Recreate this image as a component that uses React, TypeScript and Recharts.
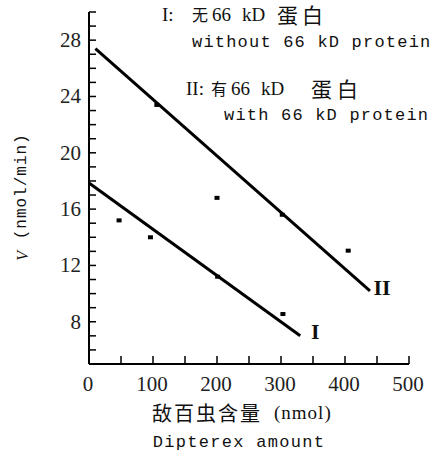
import React from 'react';
import { ComposedChart, Line, Scatter, XAxis, YAxis, LabelList } from 'recharts';

// axis ticks
const xTicks = [0, 50, 100, 150, 200, 250, 300, 350, 400, 450, 500];
const xLabels = [0, 100, 200, 300, 400, 500];
const yTicks = [5, 6, 7, 8, 9, 10, 11, 12, 13, 14, 15, 16, 17, 18, 19, 20, 21, 22, 23, 24, 25, 26, 27, 28, 29, 30];
const yLabels = [8, 12, 16, 20, 24, 28];

// I: without 66 kD protein
const amountI = [47, 96, 201, 303];
const rateI = [15.2, 14.0, 11.2, 8.55];
const fitAmountI = [0, 330];
const fitRateI = [17.85, 7.0];

// II: with 66 kD protein
const amountII = [106, 200, 302, 405];
const rateII = [23.4, 16.8, 15.6, 13.05];
const fitAmountII = [10, 439];
const fitRateII = [27.4, 10.2];

const toPoints = (xs: number[], ys: number[]) => xs.map((x, i) => ({ x, v: ys[i] }));

const pointsI = toPoints(amountI, rateI);
const pointsII = toPoints(amountII, rateII);
const lineI = toPoints(fitAmountI, fitRateI);
const lineII = toPoints(fitAmountII, fitRateII);

const SERIF = '"Liberation Serif", "DejaVu Serif", serif';
const MONO = '"Liberation Mono", "DejaVu Sans Mono", monospace';
const CJK = '"Noto Sans CJK SC", sans-serif';
const INK = '#111';

const XTick = (props: any) => {
  const { x, y, payload } = props;
  const major = xLabels.includes(payload.value);
  return (
    <g>
      <line x1={x} y1={y} x2={x} y2={y - 8} stroke="#000" strokeWidth={1.5} />
      {major && (
        <text x={x - 1} y={y + 20} textAnchor="middle" dominantBaseline="central" fontFamily={SERIF} fontSize={21} fill="#222">
          {payload.value}
        </text>
      )}
    </g>
  );
};

const YTick = (props: any) => {
  const { x, y, payload } = props;
  const major = yLabels.includes(payload.value);
  return (
    <g>
      <line x1={x} y1={y} x2={x + 7} y2={y} stroke="#000" strokeWidth={1.5} />
      {major && (
        <text x={x - 8} y={y} textAnchor="end" dominantBaseline="central" fontFamily={SERIF} fontSize={21} fill="#222">
          {payload.value}
        </text>
      )}
    </g>
  );
};

const Dot = (props: any) => {
  const { cx, cy } = props;
  return <rect x={cx - 2.5} y={cy - 2} width={5} height={4} fill="#000" />;
};

const endLabel = (name: string, last: number, dx: number, dy: number) => (props: any) => {
  const { x, y, index } = props;
  if (index !== last) return null;
  return (
    <text x={x + dx} y={y + dy} textAnchor="middle" dominantBaseline="central" fontFamily={SERIF} fontSize={22} fontWeight="bold" fill={INK}>
      {name}
    </text>
  );
};

export default function App() {
  return (
    <div style={{ position: 'absolute', left: 0, top: 0, width: 442, height: 457, background: '#fff' }}>
      <ComposedChart width={442} height={457} margin={{ top: 12, right: 33, bottom: 0, left: 0 }}>
        <XAxis
          type="number"
          dataKey="x"
          domain={[0, 500]}
          ticks={xTicks}
          interval={0}
          height={93}
          tickSize={0}
          tickMargin={0}
          tickLine={false}
          axisLine={{ stroke: '#000', strokeWidth: 2 }}
          tick={<XTick />}
        />
        <YAxis
          type="number"
          dataKey="v"
          domain={[5, 30]}
          ticks={yTicks}
          interval={0}
          width={89}
          tickSize={0}
          tickMargin={0}
          tickLine={false}
          axisLine={{ stroke: '#000', strokeWidth: 2 }}
          tick={<YTick />}
        />
        <Line data={lineI} dataKey="v" stroke="#000" strokeWidth={3} dot={false} isAnimationActive={false}>
          <LabelList dataKey="v" content={endLabel('I', 1, 15, -4)} />
        </Line>
        <Line data={lineII} dataKey="v" stroke="#000" strokeWidth={3} dot={false} isAnimationActive={false}>
          <LabelList dataKey="v" content={endLabel('II', 1, 12, -3)} />
        </Line>
        <Scatter data={pointsI} dataKey="v" shape={<Dot />} isAnimationActive={false} />
        <Scatter data={pointsII} dataKey="v" shape={<Dot />} isAnimationActive={false} />

        <text fill={INK} dominantBaseline="central">
          <tspan x={162} y={14} fontFamily={SERIF} fontSize={19}>I:</tspan>
          <tspan x={192} y={14} fontFamily={CJK} fontSize={16}>无</tspan>
          <tspan x={212} y={14} fontFamily={SERIF} fontSize={19}>66</tspan>
          <tspan x={242} y={14} fontFamily={SERIF} fontSize={19}>kD</tspan>
          <tspan x={277} y={14} fontFamily={CJK} fontSize={21} letterSpacing={4}>蛋白</tspan>
        </text>
        <text x={192} y={42} fill={INK} dominantBaseline="central" fontFamily={MONO} fontSize={17} letterSpacing={1.2}>
          without 66 kD protein
        </text>
        <text fill={INK} dominantBaseline="central">
          <tspan x={186} y={88} fontFamily={SERIF} fontSize={19}>II:</tspan>
          <tspan x={211} y={88} fontFamily={CJK} fontSize={16}>有</tspan>
          <tspan x={231} y={88} fontFamily={SERIF} fontSize={19}>66</tspan>
          <tspan x={261} y={88} fontFamily={SERIF} fontSize={19}>kD</tspan>
          <tspan x={311} y={88} fontFamily={CJK} fontSize={21} letterSpacing={5}>蛋白</tspan>
        </text>
        <text x={224} y={115} fill={INK} dominantBaseline="central" fontFamily={MONO} fontSize={17} letterSpacing={1.2}>
          with 66 kD protein
        </text>

        <text fill={INK} dominantBaseline="central">
          <tspan x={152} y={412} fontFamily={CJK} fontSize={20} letterSpacing={2}>敌百虫含量</tspan>
          <tspan x={274} y={412} fontFamily={SERIF} fontSize={19} letterSpacing={1}>(nmol)</tspan>
        </text>
        <text x={239} y={442} textAnchor="middle" fill={INK} dominantBaseline="central" fontFamily={MONO} fontSize={17} letterSpacing={1.3}>
          Dipterex amount
        </text>
        <text
          x={22}
          y={197}
          transform="rotate(-90 22 197)"
          textAnchor="middle"
          fill={INK}
          dominantBaseline="central"
          fontFamily={MONO}
          fontSize={16}
          letterSpacing={1}
        >
          <tspan fontFamily={SERIF} fontStyle="italic">V</tspan> (nmol/min)
        </text>
      </ComposedChart>
    </div>
  );
}
